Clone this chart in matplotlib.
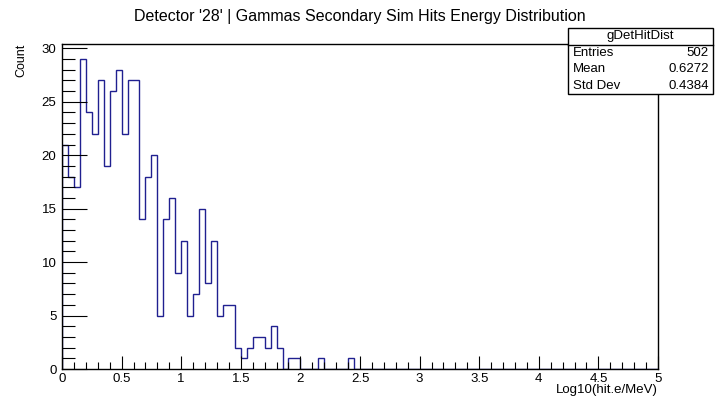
import numpy as np
import matplotlib
matplotlib.use("Agg")
import matplotlib.pyplot as plt
from matplotlib.ticker import MultipleLocator, FuncFormatter
from matplotlib.patches import Rectangle

plt.rcParams['font.family'] = ['Liberation Sans', 'DejaVu Sans']

# ---- data ----
bin_lo, bin_hi, n_bins = 0.0, 5.0, 100
counts = [21, 18, 17, 29, 24, 22, 27, 19, 26, 28,
          22, 27, 27, 14, 18, 20, 5, 14, 16, 9,
          12, 5, 7, 15, 8, 12, 5, 6, 6, 2,
          1, 2, 3, 3, 2, 4, 2, 0, 1, 1,
          0, 0, 0, 1, 0, 0, 0, 0, 1, 0] + [0] * 50
title = "Detector '28' | Gammas Secondary Sim Hits Energy Distribution"
xlabel = "Log10(hit.e/MeV)"
ylabel = "Count"
stats_name = "gDetHitDist"
stats_rows = [("Entries", "502"), ("Mean", "0.6272"), ("Std Dev", "0.4384")]

W, H = 716, 399
fig = plt.figure(figsize=(W / 100, H / 100), dpi=100)
fig.patch.set_facecolor('white')

def fx(px):
    return px / W

def fy(py):
    return 1 - py / H

ax = fig.add_axes([fx(62), fy(369), fx(658) - fx(62), fy(43.5) - fy(369)])
edges = np.linspace(bin_lo, bin_hi, n_bins + 1)
ax.stairs(counts, edges, baseline=0, color='#202090', linewidth=1.0)
ax.set_xlim(bin_lo, bin_hi)
ax.set_ylim(0, 1.05 * max(counts))

for s in ax.spines.values():
    s.set_color('black')
    s.set_linewidth(1.0)

ax.xaxis.set_major_locator(MultipleLocator(0.5))
ax.xaxis.set_minor_locator(MultipleLocator(0.1))
ax.yaxis.set_major_locator(MultipleLocator(5))
ax.yaxis.set_minor_locator(MultipleLocator(1))
ax.xaxis.set_major_formatter(FuncFormatter(lambda v, p: f"{v:g}"))
ax.yaxis.set_major_formatter(FuncFormatter(lambda v, p: f"{v:g}"))
ax.tick_params(axis='x', which='major', direction='in', length=9.5, width=0.8, labelsize=9.5, pad=3)
ax.tick_params(axis='x', which='minor', direction='in', length=5, width=0.8)
ax.tick_params(axis='y', which='major', direction='in', length=18, width=0.8, labelsize=9.5, pad=4)
ax.tick_params(axis='y', which='minor', direction='in', length=9, width=0.8)
ax.tick_params(top=False, right=False, which='both')

fig.text(fx(360), fy(16.5), title, ha='center', va='center', fontsize=11.5)
fig.text(fx(658), fy(390), xlabel, ha='right', va='center', fontsize=9.5)
fig.text(fx(21), fy(43.5), ylabel, rotation=90, ha='center', va='top', fontsize=9)

# stats box
x0, x1, yt, yb = 567.5, 713, 28, 94
row_h = (yb - yt) / 4
fig.patches.append(Rectangle((fx(x0), fy(yb)), fx(x1) - fx(x0), fy(yt) - fy(yb),
                             transform=fig.transFigure, facecolor='white',
                             edgecolor='black', linewidth=1.0, zorder=5))
fig.lines.append(plt.Line2D([fx(x0), fx(x1)], [fy(yt + row_h), fy(yt + row_h)],
                            transform=fig.transFigure, color='black', linewidth=1.0, zorder=6))
fig.text(fx((x0 + x1) / 2), fy(yt + row_h / 2), stats_name, ha='center', va='center',
         fontsize=9.5, zorder=7)
for i, (k, v) in enumerate(stats_rows):
    yy = fy(yt + row_h * (i + 1.5))
    fig.text(fx(573), yy, k, ha='left', va='center', fontsize=9.5, zorder=7)
    fig.text(fx(709), yy, v, ha='right', va='center', fontsize=9.5, zorder=7)

fig.savefig('out.png', dpi=100)
